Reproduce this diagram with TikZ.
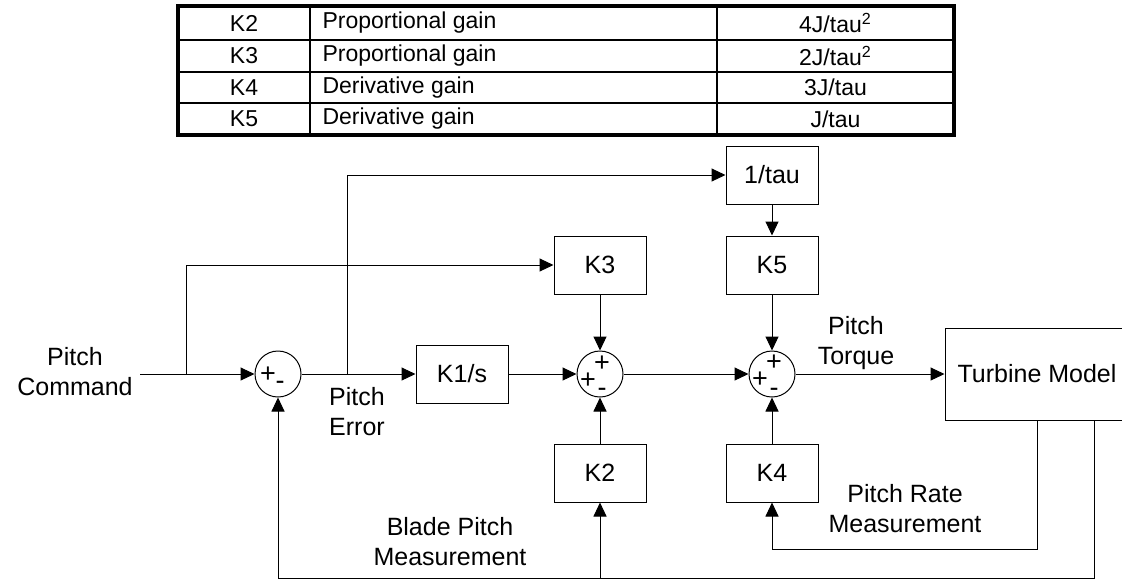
\documentclass[tikz,border=0pt]{standalone}
\usepackage{fontspec}
\setmainfont{Liberation Sans}
\usetikzlibrary{arrows.meta}

\tikzset{
  blk/.style={draw, minimum width=46pt, minimum height=29pt, inner sep=0pt},
  sumj/.style={draw, circle, minimum size=23pt, inner sep=0pt},
  sgn/.style={inner sep=0pt, font=\fontsize{13.5}{15}\selectfont},
  lbl/.style={align=center, inner sep=0pt},
  cell/.style={inner sep=0pt, font=\fontsize{11.5}{13}\selectfont},
  sig/.style={-{Triangle[length=7pt, width=6.5pt]}},
}

\begin{document}
\begin{tikzpicture}[x=0.5pt, y=-0.5pt, line width=0.5pt, font=\fontsize{12.5}{15}\selectfont]
    \useasboundingbox (0, 0) rectangle (1122, 580);
    \clip (0, 0) rectangle (1122, 580);

    % gain table
    \foreach \y/\k/\d/\v [count=\i] in {23/K2/Proportional gain/{4J/tau\textsuperscript{2}},
                                        56/K3/Proportional gain/{2J/tau\textsuperscript{2}},
                                        87.5/K4/Derivative gain/{3J/tau},
                                        119/K5/Derivative gain/{J/tau}} {
        \node[cell] (kname\i) at (244, \y) {\k};
        \node[cell, anchor=west] (kdesc\i) at (322, \y) {\d};
        \node[cell] (kval\i) at (835.5, \y) {\v};
    }
    \foreach \y in {40, 72, 103}
        \draw[line width=1pt] (178, \y) -- (954, \y);
    \foreach \x in {310, 717}
        \draw[line width=1pt] (\x, 6) -- (\x, 135);
    \draw[line width=1.75pt] (178, 6) rectangle (954, 135);

    % blocks
    \node[lbl] (cmd) at (75, 372) {Pitch\\Command};
    \coordinate (cin) at (140, 374);
    \node[sumj] (s1) at (278, 374) {};
    \node[blk] (k1) at (462, 374) {K1/s};
    \node[sumj] (s2) at (600, 374) {};
    \node[sumj] (s3) at (772, 374) {};
    \node[blk] (k3) at (600, 265) {K3};
    \node[blk] (k2) at (600, 473) {K2};
    \node[blk] (tau) at (772, 175) {1/tau};
    \node[blk] (k5) at (772, 265) {K5};
    \node[blk] (k4) at (772, 473) {K4};
    \node[draw, minimum width=92pt, minimum height=46pt, inner sep=0pt] (tm) at (1037, 374) {Turbine Model};

    % signs
    \node[sgn] (s1p) at ([shift={(-10, 1)}]s1) {+};
    \node[sgn] (s1m) at ([shift={(2, 11)}]s1) {-};
    \node[sgn] (s2p) at ([shift={(2, -10)}]s2) {+};
    \node[sgn] (s2q) at ([shift={(-12, 7)}]s2) {+};
    \node[sgn] (s2m) at ([shift={(2, 18)}]s2) {-};
    \node[sgn] (s3p) at ([shift={(2, -11)}]s3) {+};
    \node[sgn] (s3q) at ([shift={(-12, 6)}]s3) {+};
    \node[sgn] (s3m) at ([shift={(2, 18)}]s3) {-};

    % signals
    \draw[sig] (cin) -- (s1);
    \draw[sig] (186, 374) coordinate (b1) |- (k3.west);
    \draw[sig] (s1) -- (k1);
    \draw[sig] (347, 374) coordinate (b2) |- (tau.west);
    \draw[sig] (k1) -- (s2);
    \draw[sig] (s2) -- (s3);
    \draw[sig] (s3) -- (tm);
    \draw[sig] (k3) -- (s2);
    \draw[sig] (k2) -- (s2);
    \draw[sig] (tau) -- (k5);
    \draw[sig] (k5) -- (s3);
    \draw[sig] (k4) -- (s3);
    \draw[sig] (tm.south) -- ++(0, 129) -| (k4.south);
    \draw[sig] ([xshift=28.5pt]tm.south) -- ++(0, 158) coordinate (fb) -| (s1.south);
    \draw[sig] (k2.south |- fb) -- (k2.south);

    % labels
    \node[lbl] (err) at (357, 412) {Pitch\\Error};
    \node[lbl] (trq) at (856, 343) {Pitch\\Torque};
    \node[lbl] (blade) at (450, 542) {Blade Pitch\\Measurement};
    \node[lbl] (rate) at (905, 509) {Pitch Rate\\Measurement};
\end{tikzpicture}
\end{document}
